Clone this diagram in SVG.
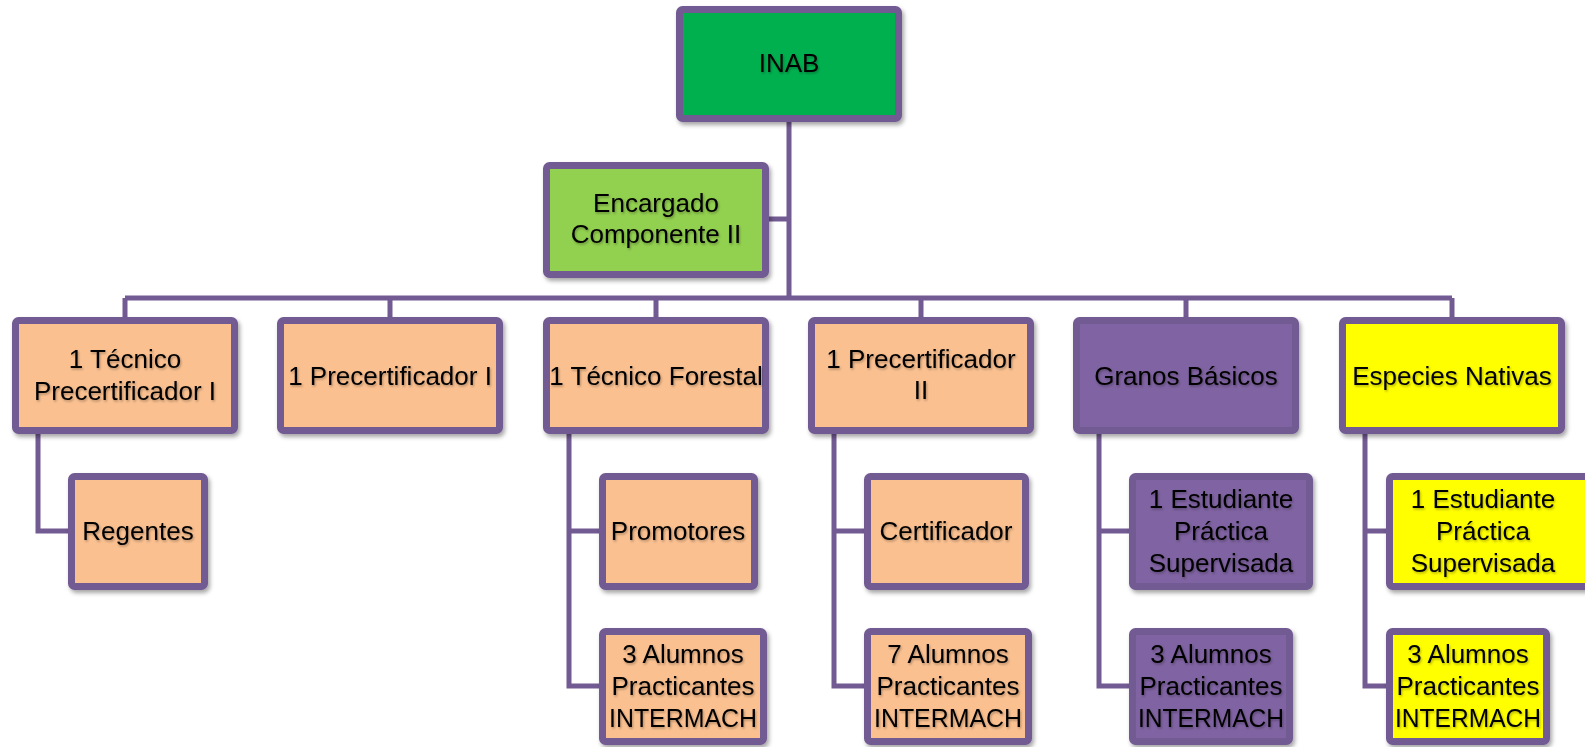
<svg xmlns="http://www.w3.org/2000/svg" width="1585" height="747" viewBox="0 0 1585 747">
<defs>
<filter id="sh" x="-10%" y="-10%" width="125%" height="130%">
<feDropShadow dx="2" dy="3" stdDeviation="2" flood-color="#000" flood-opacity="0.35"/>
</filter>
<filter id="tsh" x="-5%" y="-20%" width="110%" height="150%">
<feDropShadow dx="1" dy="1.5" stdDeviation="1" flood-color="#000" flood-opacity="0.3"/>
</filter>
<style>
.box{stroke:#725A92;stroke-width:7;filter:url(#sh)}
.green{fill:#00B050}
.lgreen{fill:#92D050}
.peach{fill:#FAC090}
.purple{fill:#8064A2}
.yellow{fill:#FFFF00}
text{font-family:"Liberation Sans",Arial,sans-serif;font-size:26px;fill:#000;text-anchor:middle;filter:url(#tsh)}
.con{fill:none;stroke:#725A92;stroke-width:5}
</style>
</defs>
<rect width="1585" height="747" fill="#FFFFFF"/>
<g id="connectors">
<path class="con" d="M789 122V298M769 219H789M125 298H1452M125 298V318M390 298V318M656 298V318M921 298V318M1186 298V318M1452 298V318"/>
<path class="con" d="M38 433V531H69"/>
<path class="con" d="M569 433V686H600M569 531H600"/>
<path class="con" d="M834 433V686H865M834 531H865"/>
<path class="con" d="M1099 433V686H1130M1099 531H1130"/>
<path class="con" d="M1365 433V686H1387M1365 531H1387"/>
</g>
<g id="inab"><rect class="box green" x="679.5" y="9.5" width="219" height="109" rx="3"/><text x="789" y="72">INAB</text></g>
<g id="encargado"><rect class="box lgreen" x="546.5" y="165.5" width="219" height="109" rx="3"/><text x="656" y="212">Encargado</text><text x="656" y="243">Componente II</text></g>
<g id="tecnico-precert"><rect class="box peach" x="15.5" y="320.5" width="219" height="110" rx="3"/><text x="125" y="368">1 Técnico</text><text x="125" y="400">Precertificador I</text></g>
<g id="precert-1"><rect class="box peach" x="280.5" y="320.5" width="219" height="110" rx="3"/><text x="390" y="385">1 Precertificador I</text></g>
<g id="tecnico-forestal"><rect class="box peach" x="546.5" y="320.5" width="219" height="110" rx="3"/><text x="656" y="385">1 Técnico Forestal</text></g>
<g id="precert-2"><rect class="box peach" x="811.5" y="320.5" width="219" height="110" rx="3"/><text x="921" y="368">1 Precertificador</text><text x="921" y="399">II</text></g>
<g id="granos"><rect class="box purple" x="1076.5" y="320.5" width="219" height="110" rx="3"/><text x="1186" y="385">Granos Básicos</text></g>
<g id="especies"><rect class="box yellow" x="1342.5" y="320.5" width="219" height="110" rx="3"/><text x="1452" y="385">Especies Nativas</text></g>
<g id="regentes"><rect class="box peach" x="71.5" y="476.5" width="133" height="110" rx="3"/><text x="138" y="540">Regentes</text></g>
<g id="promotores"><rect class="box peach" x="602.5" y="476.5" width="152" height="110" rx="3"/><text x="678" y="540">Promotores</text></g>
<g id="alumnos-forestal"><rect class="box peach" x="602.5" y="631.5" width="161" height="110" rx="3"/><text x="683" y="663">3 Alumnos</text><text x="683" y="695">Practicantes</text><text x="683" y="727" textLength="148" lengthAdjust="spacingAndGlyphs">INTERMACH</text></g>
<g id="certificador"><rect class="box peach" x="867.5" y="476.5" width="158" height="110" rx="3"/><text x="946" y="540">Certificador</text></g>
<g id="alumnos-precert"><rect class="box peach" x="867.5" y="631.5" width="161" height="110" rx="3"/><text x="948" y="663">7 Alumnos</text><text x="948" y="695">Practicantes</text><text x="948" y="727" textLength="148" lengthAdjust="spacingAndGlyphs">INTERMACH</text></g>
<g id="estudiante-granos"><rect class="box purple" x="1132.5" y="476.5" width="177" height="110" rx="3"/><text x="1221" y="508">1 Estudiante</text><text x="1221" y="540">Práctica</text><text x="1221" y="572">Supervisada</text></g>
<g id="alumnos-granos"><rect class="box purple" x="1132.5" y="631.5" width="157" height="110" rx="3"/><text x="1211" y="663">3 Alumnos</text><text x="1211" y="695">Practicantes</text><text x="1211" y="727" textLength="146" lengthAdjust="spacingAndGlyphs">INTERMACH</text></g>
<g id="estudiante-especies"><rect class="box yellow" x="1389.5" y="476.5" width="220" height="110" rx="3"/><text x="1483" y="508">1 Estudiante</text><text x="1483" y="540">Práctica</text><text x="1483" y="572">Supervisada</text></g>
<g id="alumnos-especies"><rect class="box yellow" x="1389.5" y="631.5" width="157" height="110" rx="3"/><text x="1468" y="663">3 Alumnos</text><text x="1468" y="695">Practicantes</text><text x="1468" y="727" textLength="146" lengthAdjust="spacingAndGlyphs">INTERMACH</text></g>
</svg>
